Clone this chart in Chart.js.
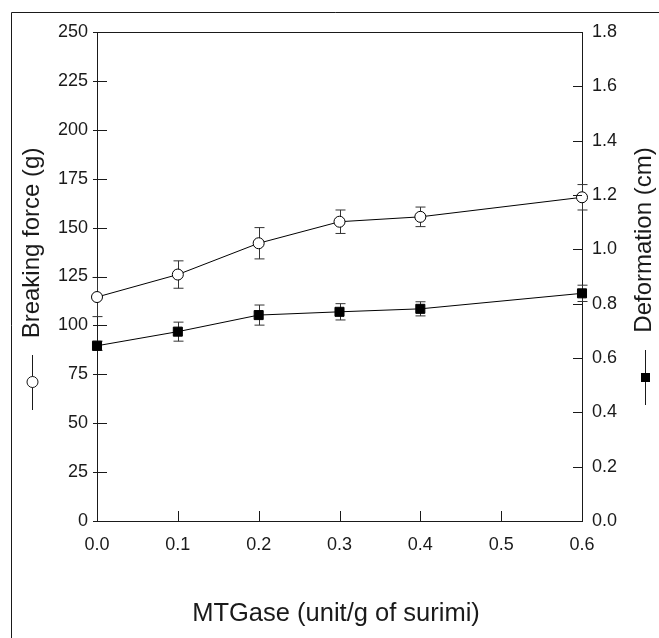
<!DOCTYPE html>
<html>
<head>
  <title>MTGase: breaking force and deformation</title>
  <script src="https://cdn.jsdelivr.net/npm/chart.js"></script>
  <style>
    body { margin: 0; background: #fff; }
    #wrap { width: 659px; height: 638px; }
  </style>
</head>
<body>
  <div id="wrap"><canvas id="chart" width="659" height="638"></canvas></div>

  <script>
    const mtgase = [0, 0.1, 0.2, 0.3, 0.4, 0.6];
    const breakingForce = [114.5, 126, 142, 153, 155.5, 165.5];
    const breakingForceErr = [10, 7, 8, 6, 5, 6.5];
    const deformation = [0.645, 0.697, 0.758, 0.770, 0.781, 0.838];
    const deformationErr = [0.017, 0.035, 0.037, 0.03, 0.026, 0.03];

    const xTitle = 'MTGase (unit/g of surimi)';
    const yTitle = 'Breaking force (g)';
    const y1Title = 'Deformation (cm)';

    const FONT = '"Liberation Sans", Arial, sans-serif';
    const INK = '#1a1a1a';

    // white page + the scanned frame edge
    const framePlugin = {
      id: 'frame',
      beforeDraw(chart) {
        const ctx = chart.ctx;
        ctx.save();
        ctx.fillStyle = '#fff';
        ctx.fillRect(0, 0, chart.width, chart.height);
        ctx.strokeStyle = INK;
        ctx.lineWidth = 1;
        ctx.beginPath();
        ctx.moveTo(11.5, chart.height);
        ctx.lineTo(11.5, 12.5);
        ctx.lineTo(chart.width, 12.5);
        ctx.stroke();
        ctx.restore();
      }
    };

    const errorBarPlugin = {
      id: 'errorBars',
      beforeDatasetsDraw(chart) {
        const ctx = chart.ctx;
        const xs = chart.scales.x;
        const sets = [
          { scale: chart.scales.y, vals: breakingForce, errs: breakingForceErr },
          { scale: chart.scales.y1, vals: deformation, errs: deformationErr }
        ];
        ctx.save();
        ctx.strokeStyle = '#333';
        ctx.lineWidth = 1;
        sets.forEach(s => {
          mtgase.forEach((m, i) => {
            const px = Math.round(xs.getPixelForValue(m)) + 0.5;
            const top = s.scale.getPixelForValue(s.vals[i] + s.errs[i]);
            const bot = s.scale.getPixelForValue(s.vals[i] - s.errs[i]);
            ctx.beginPath();
            ctx.moveTo(px, top); ctx.lineTo(px, bot);
            ctx.moveTo(px - 5, top); ctx.lineTo(px + 5, top);
            ctx.moveTo(px - 5, bot); ctx.lineTo(px + 5, bot);
            ctx.stroke();
          });
        });
        ctx.restore();
      }
    };

    // inward ticks, top border, axis titles with their little legend keys
    const decorPlugin = {
      id: 'decor',
      afterDraw(chart) {
        const ctx = chart.ctx;
        const a = chart.chartArea;
        const { x, y, y1 } = chart.scales;
        ctx.save();
        ctx.strokeStyle = INK;
        ctx.lineWidth = 1;
        ctx.beginPath();
        ctx.moveTo(a.left, a.top + 0.5); ctx.lineTo(a.right, a.top + 0.5);
        x.ticks.forEach(t => {
          const px = Math.round(x.getPixelForValue(t.value)) + 0.5;
          ctx.moveTo(px, a.bottom); ctx.lineTo(px, a.bottom - 10);
        });
        y.ticks.forEach(t => {
          const py = Math.round(y.getPixelForValue(t.value)) + 0.5;
          ctx.moveTo(a.left - 4, py); ctx.lineTo(a.left + 10, py);
        });
        y1.ticks.forEach(t => {
          const py = Math.round(y1.getPixelForValue(t.value)) + 0.5;
          ctx.moveTo(a.right, py); ctx.lineTo(a.right - 9, py);
        });
        ctx.stroke();

        ctx.fillStyle = INK;
        ctx.textAlign = 'center';
        ctx.textBaseline = 'alphabetic';
        ctx.font = '25.5px ' + FONT;
        ctx.fillText(xTitle, 336, 621);

        ctx.font = '24px ' + FONT;
        ctx.save();
        ctx.translate(39, 243);
        ctx.rotate(-Math.PI / 2);
        ctx.fillText(yTitle, 0, 0);
        ctx.restore();

        ctx.save();
        ctx.translate(651, 240);
        ctx.rotate(-Math.PI / 2);
        ctx.fillText(y1Title, 0, 0);
        ctx.restore();

        // key: line with open circle
        ctx.beginPath();
        ctx.moveTo(32.5, 355); ctx.lineTo(32.5, 410);
        ctx.stroke();
        ctx.beginPath();
        ctx.arc(32.5, 382, 5.5, 0, Math.PI * 2);
        ctx.fillStyle = '#fff';
        ctx.fill();
        ctx.stroke();

        // key: line with filled square
        ctx.beginPath();
        ctx.moveTo(645.5, 350); ctx.lineTo(645.5, 405);
        ctx.stroke();
        ctx.fillStyle = '#000';
        ctx.fillRect(641, 373, 9, 9);
        ctx.restore();
      }
    };

    const tickFont = { family: FONT, size: 18 };

    new Chart(document.getElementById('chart'), {
      type: 'line',
      data: {
        datasets: [
          {
            label: yTitle,
            data: mtgase.map((m, i) => ({ x: m, y: breakingForce[i] })),
            yAxisID: 'y',
            borderColor: '#000', borderWidth: 1, tension: 0,
            pointStyle: 'circle', pointRadius: 5.5,
            pointBackgroundColor: '#fff', pointBorderColor: '#000', pointBorderWidth: 1,
            clip: false
          },
          {
            label: y1Title,
            data: mtgase.map((m, i) => ({ x: m, y: deformation[i] })),
            yAxisID: 'y1',
            borderColor: '#000', borderWidth: 1, tension: 0,
            pointStyle: 'rect', pointRadius: 6.4,
            pointBackgroundColor: '#000', pointBorderColor: '#000', pointBorderWidth: 1,
            clip: false
          }
        ]
      },
      options: {
        responsive: false,
        animation: false,
        events: [],
        layout: { padding: { top: 32, left: 0, right: 0, bottom: 0 } },
        plugins: { legend: { display: false }, tooltip: { enabled: false } },
        scales: {
          x: {
            type: 'linear', min: 0, max: 0.6,
            grid: { display: false, drawTicks: false },
            border: { display: true, color: INK, width: 1 },
            ticks: { stepSize: 0.1, padding: 13, color: INK, font: tickFont, callback: v => v.toFixed(1) },
            afterFit: s => { s.height = 117; }
          },
          y: {
            position: 'left', min: 0, max: 250,
            grid: { display: false, drawTicks: false },
            border: { display: true, color: INK, width: 1 },
            ticks: { stepSize: 25, padding: 9, color: INK, font: tickFont },
            afterFit: s => { s.width = 97; }
          },
          y1: {
            position: 'right', min: 0, max: 1.8,
            grid: { display: false, drawTicks: false },
            border: { display: true, color: INK, width: 1 },
            ticks: { stepSize: 0.2, padding: 10, color: INK, font: tickFont, callback: v => v.toFixed(1) },
            afterFit: s => { s.width = 77; }
          }
        }
      },
      plugins: [framePlugin, errorBarPlugin, decorPlugin]
    });
  </script>
</body>
</html>
